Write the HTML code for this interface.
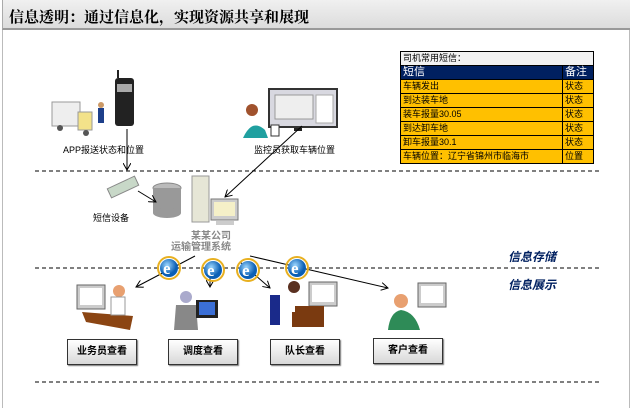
<!DOCTYPE html>
<html><head><meta charset="utf-8"><style>
html,body{margin:0;padding:0;background:#fff;}
body{width:632px;height:408px;position:relative;overflow:hidden;font-family:"Liberation Sans","Noto Sans CJK SC",sans-serif;}
.title{position:absolute;left:2px;top:0;width:628px;height:30px;background:linear-gradient(#f0f0f0,#dcdcdc);border-bottom:2px solid #999;border-left:1px solid #aaa;box-sizing:border-box;}
.title span{position:absolute;left:6px;top:6px;font-size:15px;font-weight:bold;color:#000;font-family:"Liberation Serif","Noto Serif CJK SC",serif;}
.frame{position:absolute;left:2px;top:30px;width:628px;height:378px;border-left:1px solid #bbb;border-right:1px solid #bbb;box-sizing:border-box;}
table{position:absolute;left:400px;top:51px;width:194px;border-collapse:collapse;font-size:9px;font-family:"Liberation Sans","Noto Sans CJK SC",sans-serif;}
td{border:1px solid #000;padding:0 2px;height:13px;line-height:13px;white-space:nowrap;}
.y td{background:#ffc000;color:#000;}
.h td{background:#002060;color:#fff;font-size:11px;}
.lbl{position:absolute;font-size:9px;color:#000;white-space:nowrap;}
.box{position:absolute;width:68px;height:24px;border:1px solid #333;background:linear-gradient(#fff,#d8d8d8);box-shadow:1px 1px 1px #777;font-size:10px;font-weight:bold;text-align:center;line-height:24px;}
.side{position:absolute;left:508px;font-size:12px;font-weight:bold;font-style:italic;color:#002060;}
</style></head><body>
<div class="title"><span>信息透明：通过信息化，实现资源共享和展现</span></div>
<div class="frame"></div>
<table>
<tr><td colspan="2" style="background:#f2f2f2">司机常用短信：</td></tr>
<tr class="h"><td>短信</td><td style="width:26px">备注</td></tr>
<tr class="y"><td>车辆发出</td><td>状态</td></tr>
<tr class="y"><td>到达装车地</td><td>状态</td></tr>
<tr class="y"><td>装车报量30.05</td><td>状态</td></tr>
<tr class="y"><td>到达卸车地</td><td>状态</td></tr>
<tr class="y"><td>卸车报量30.1</td><td>状态</td></tr>
<tr class="y"><td>车辆位置：辽宁省锦州市临海市</td><td>位置</td></tr>
</table>
<svg width="632" height="408" style="position:absolute;left:0;top:0">
<defs><marker id="a" markerWidth="8" markerHeight="8" refX="7" refY="4" orient="auto"><path d="M0,0 L7,4 L0,8" fill="none" stroke="#000" stroke-width="1"/></marker>
<radialGradient id="ie" cx="40%" cy="35%"><stop offset="0" stop-color="#9fd8ff"/><stop offset="1" stop-color="#0a5fb5"/></radialGradient></defs>
<g stroke="#000" stroke-width="1" stroke-dasharray="4,3">
<line x1="35" y1="171" x2="600" y2="171"/><line x1="35" y1="268" x2="600" y2="268"/><line x1="35" y1="382" x2="600" y2="382"/></g>
<!-- truck -->
<rect x="52" y="102" width="28" height="24" fill="#eee" stroke="#999"/><rect x="78" y="112" width="14" height="18" fill="#f3e28a" stroke="#999"/>
<circle cx="60" cy="128" r="3" fill="#555"/><circle cx="86" cy="133" r="3" fill="#555"/>
<rect x="98" y="108" width="6" height="15" fill="#1d3f8a"/><circle cx="101" cy="105" r="3" fill="#c96"/>
<!-- phone -->
<rect x="115" y="78" width="19" height="48" rx="3" fill="#222"/><rect x="117" y="84" width="15" height="8" fill="#aaa"/><line x1="118" y1="78" x2="118" y2="70" stroke="#222" stroke-width="2"/>
<!-- monitor top -->
<rect x="268" y="88" width="70" height="40" fill="#333"/><rect x="270" y="90" width="66" height="36" fill="#d8d8e0"/>
<rect x="275" y="95" width="38" height="24" fill="#eee" stroke="#999"/><rect x="316" y="95" width="17" height="28" fill="#fff" stroke="#aaa"/>
<rect x="294" y="128" width="8" height="3" fill="#222"/>
<circle cx="252" cy="110" r="6" fill="#a0522d"/><path d="M243,138 Q252,118 265,130 L268,138Z" fill="#20a0a0"/><rect x="271" y="125" width="8" height="11" fill="#fff" stroke="#333"/>
<!-- sms device -->
<rect x="108" y="182" width="30" height="10" fill="#c8d8c8" stroke="#888" transform="rotate(-25 123 187)"/>
<!-- db -->
<ellipse cx="167" cy="188" rx="14" ry="5" fill="#bbb" stroke="#888"/><rect x="153" y="188" width="28" height="25" fill="#999"/><ellipse cx="167" cy="213" rx="14" ry="5" fill="#999"/>
<!-- server -->
<rect x="192" y="176" width="17" height="46" fill="#e6e6d6" stroke="#999"/>
<rect x="211" y="199" width="27" height="21" fill="#ccc" stroke="#777"/><rect x="214" y="202" width="21" height="14" fill="#f5f0c8"/><rect x="216" y="221" width="18" height="4" fill="#ccc"/>
<g stroke="#000" fill="none">
<line x1="127" y1="129" x2="127" y2="170" marker-end="url(#a)"/>
<line x1="302" y1="126" x2="225" y2="197" marker-end="url(#a)"/>
<line x1="138" y1="191" x2="156" y2="202" marker-end="url(#a)"/>
<line x1="195" y1="256" x2="136" y2="287" marker-end="url(#a)"/>
<line x1="210" y1="263" x2="210" y2="287" marker-end="url(#a)"/>
<line x1="240" y1="262" x2="270" y2="288" marker-end="url(#a)"/>
<line x1="250" y1="256" x2="388" y2="288" marker-end="url(#a)"/>
</g>
<g font-family="Liberation Serif,serif" font-weight="bold" font-size="17" fill="#fff">
<circle cx="169" cy="268" r="9" fill="url(#ie)"/><circle cx="169" cy="268" r="11" fill="none" stroke="#e8b020" stroke-width="2"/><text x="163" y="274">e</text>
<circle cx="213" cy="270" r="9" fill="url(#ie)"/><circle cx="213" cy="270" r="11" fill="none" stroke="#e8b020" stroke-width="2"/><text x="207" y="276">e</text>
<circle cx="248" cy="270" r="9" fill="url(#ie)"/><circle cx="248" cy="270" r="11" fill="none" stroke="#e8b020" stroke-width="2"/><text x="242" y="276">e</text>
<circle cx="297" cy="268" r="9" fill="url(#ie)"/><circle cx="297" cy="268" r="11" fill="none" stroke="#e8b020" stroke-width="2"/><text x="291" y="274">e</text>
</g>
<!-- people bottom -->
<rect x="77" y="285" width="28" height="24" fill="#ccc" stroke="#666"/><rect x="80" y="288" width="22" height="17" fill="#fff"/>
<path d="M82,312 L133,316 L130,330 L86,322Z" fill="#8b4513"/><circle cx="119" cy="291" r="6" fill="#e8a070"/><rect x="111" y="297" width="14" height="18" fill="#fff" stroke="#999"/>
<circle cx="186" cy="297" r="6" fill="#aac"/><path d="M174,330 L176,305 L196,305 L198,330Z" fill="#888"/><rect x="196" y="300" width="22" height="18" fill="#222"/><rect x="199" y="302" width="16" height="13" fill="#3b6fd6"/>
<rect x="309" y="282" width="28" height="24" fill="#ccc" stroke="#666"/><rect x="312" y="285" width="22" height="17" fill="#fff"/>
<circle cx="294" cy="287" r="6" fill="#5a3020"/><rect x="270" y="295" width="10" height="30" fill="#1a2a8a"/><rect x="292" y="306" width="32" height="21" fill="#7a3a10"/><rect x="285" y="294" width="10" height="18" fill="#fff"/>
<rect x="418" y="283" width="28" height="24" fill="#ccc" stroke="#666"/><rect x="421" y="286" width="22" height="17" fill="#fff"/>
<circle cx="401" cy="301" r="7" fill="#e8a070"/><path d="M388,330 Q390,312 401,310 Q415,312 420,330Z" fill="#2e8b57"/>
</svg>
<div class="lbl" style="left:63px;top:143px">APP报送状态和位置</div>
<div class="lbl" style="left:254px;top:143px">监控员获取车辆位置</div>
<div class="lbl" style="left:93px;top:211px">短信设备</div>
<div class="lbl" style="left:171px;top:231px;color:#888;font-size:10px;font-weight:bold;text-align:center;line-height:11px">　　某某公司<br>运输管理系统</div>
<div class="side" style="top:248px">信息存储</div>
<div class="side" style="top:276px">信息展示</div>
<div class="box" style="left:67px;top:339px">业务员查看</div>
<div class="box" style="left:168px;top:339px">调度查看</div>
<div class="box" style="left:270px;top:339px">队长查看</div>
<div class="box" style="left:373px;top:338px">客户查看</div>
</body></html>
